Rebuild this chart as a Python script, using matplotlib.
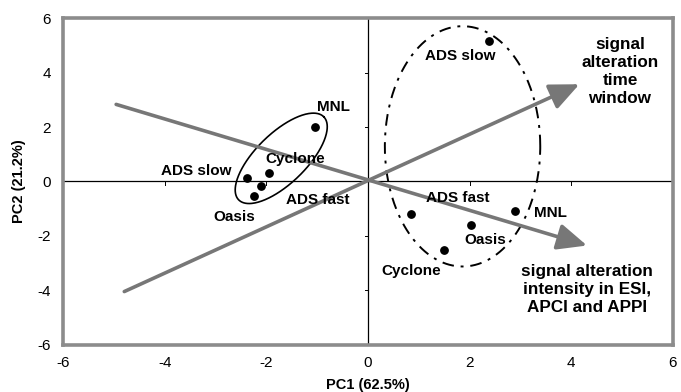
import numpy as np
import matplotlib.pyplot as plt

plt.rcParams['font.family'] = ['Liberation Sans', 'DejaVu Sans']
plt.rcParams['axes.unicode_minus'] = False

# scores, cluster 1 (left) and cluster 2 (right)
names = ["MNL", "Cyclone", "ADS slow", "ADS fast", "Oasis"]
left_x = [-1.05, -1.96, -2.39, -2.10, -2.25]
left_y = [2.00, 0.33, 0.11, -0.18, -0.55]
right_x = [2.90, 1.49, 2.39, 0.84, 2.02]
right_y = [-1.07, -2.50, 5.14, -1.18, -1.58]

# label positions
left_lab_x = [-0.69, -1.43, -3.39, -1.00, -2.63]
left_lab_y = [2.72, 0.81, 0.37, -0.68, -1.29]
right_lab_x = [3.60, 0.84, 1.82, 1.76, 2.30]
right_lab_y = [-1.14, -3.27, 4.60, -0.60, -2.13]

# loading directions (start, tip)
time_start = (-4.80, -4.04)
time_tip = (4.16, 3.57)
int_start = (-4.96, 2.83)
int_tip = (4.31, -2.35)
time_label = "signal\nalteration\ntime\nwindow"
int_label = "signal alteration\nintensity in ESI,\nAPCI and APPI"

ticks = [-6, -4, -2, 0, 2, 4, 6]
gray = "#777777"

fig = plt.figure(figsize=(6.81, 3.92), dpi=100)
ax = fig.add_axes([0.093, 0.12, 0.895, 0.834])
ax.set_xlim(-6, 6)
ax.set_ylim(-6, 6)

for s in ax.spines.values():
	s.set_color("#8c8c8c")
	s.set_linewidth(2.6)
ax.set_xticks(ticks)
ax.set_yticks(ticks)
ax.tick_params(length=0, labelsize=11)
ax.tick_params(axis="x", pad=8)
ax.tick_params(axis="y", pad=9)

# zero axes with small ticks
ax.axhline(0, color="black", lw=0.9, zorder=1)
ax.axvline(0, color="black", lw=0.9, zorder=1)
for t in ticks[1:-1]:
	if t != 0:
		ax.plot([t, t], [0, -0.12], color="black", lw=0.7, zorder=1)
		ax.plot([0, -0.06], [t, t], color="black", lw=0.7, zorder=1)

# ellipses
th = np.linspace(0, 2 * np.pi, 300)
c1 = np.array([-1.71, 0.85])
u1 = np.array([0.84, 1.52])
v1 = np.array([0.34, -0.665])
e1 = c1[:, None] + u1[:, None] * np.cos(th) + v1[:, None] * np.sin(th)
ax.plot(e1[0], e1[1], color="black", lw=1.2, zorder=2)
c2 = np.array([1.86, 1.29])
ax.plot(c2[0] + 1.53 * np.cos(th), c2[1] + 4.41 * np.sin(th), color="black",
	lw=1.4, linestyle=(0, (6, 3.5, 1.5, 3.5)), zorder=2)

# arrows
for st, tp in [(time_start, time_tip), (int_start, int_tip)]:
	ax.annotate("", xy=tp, xytext=st, zorder=3,
		arrowprops=dict(arrowstyle="-|>,head_length=0.9,head_width=0.4", color=gray,
			lw=2.6, shrinkA=0, shrinkB=0, mutation_scale=20))

ax.scatter(left_x + right_x, left_y + right_y, s=28, color="black", zorder=4)

for i, n in enumerate(names):
	ax.text(left_lab_x[i], left_lab_y[i], n, ha="center", va="center", fontsize=11, fontweight="bold", zorder=5)
	ax.text(right_lab_x[i], right_lab_y[i], n, ha="center", va="center", fontsize=11, fontweight="bold", zorder=5)

ax.text(4.96, 4.04, time_label, ha="center", va="center", fontsize=12.3, fontweight="bold", linespacing=1.25)
ax.text(4.31, -3.97, int_label, ha="center", va="center", fontsize=12.3, fontweight="bold", linespacing=1.25)

ax.set_xlabel("PC1 (62.5%)", fontsize=10.5, fontweight="bold", labelpad=6)
ax.set_ylabel("PC2 (21.2%)", fontsize=10.5, fontweight="bold", labelpad=8)

fig.savefig("out.png", dpi=100)
